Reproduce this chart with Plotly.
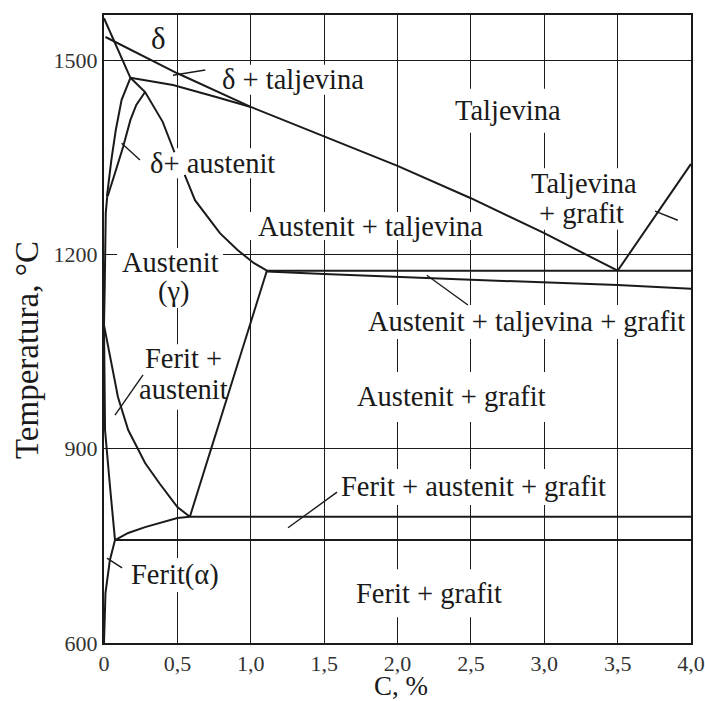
import plotly.graph_objects as go

# ---------------- data (C in %, temperature in °C) ----------------
x_ticks = [0, 0.5, 1.0, 1.5, 2.0, 2.5, 3.0, 3.5, 4.0]
x_ticktext = ["0", "0,5", "1,0", "1,5", "2,0", "2,5", "3,0", "3,5", "4,0"]
y_ticks = [600, 900, 1200, 1500]

liquidus_C = [0.01, 0.5, 1.0, 1.5, 2.0, 2.5, 3.0, 3.5]
liquidus_T = [1536, 1480, 1428, 1382, 1337, 1287, 1233, 1175]

graphite_liq_C = [3.5, 4.0]
graphite_liq_T = [1175, 1340]

delta_solidus_C = [0.0, 0.18]
delta_solidus_T = [1565, 1473]

peritectic_C = [0.18, 0.47, 0.77, 1.0]
peritectic_T = [1473, 1462, 1443, 1428]

gamma_solidus_C = [0.18, 0.28, 0.40, 0.48, None, 0.55, 0.62, 0.79, 0.91, 1.02, 1.11]
gamma_solidus_T = [1473, 1451, 1405, 1358, None, 1323, 1284, 1233, 1207, 1187, 1175]

delta_bound_C = [0.18, 0.12, 0.08, 0.05, 0.02]
delta_bound_T = [1473, 1439, 1392, 1346, 1290]

gamma_bound_C = [0.28, 0.22, 0.18, 0.13, 0.075, 0.025]
gamma_bound_T = [1451, 1431, 1408, 1366, 1326, 1290]

gamma_left_C = [0.022, 0.012, 0.005, 0.0]
gamma_left_T = [1290, 1264, 1150, 1091]

a3_C = [0.0, 0.04, 0.095, 0.165, 0.28, 0.38, 0.50, 0.585]
a3_T = [1091, 1042, 980, 929, 878, 846, 810, 795]

alpha_bound_C = [0.0, 0.007, 0.04, 0.075]
alpha_bound_T = [1091, 929, 844, 759]

gamma_solvus_C = [0.585, 1.11]
gamma_solvus_T = [795, 1175]

three_phase_low_C = [0.075, 0.165, 0.28, 0.40, 0.50, 0.585]
three_phase_low_T = [759, 770, 779, 787, 793, 795]

upper_iso_C = [0.585, 4.0]
upper_iso_T = [795, 795]

lower_iso_C = [0.075, 4.0]
lower_iso_T = [759, 759]

alpha_solvus_C = [0.075, 0.04, 0.01, 0.0]
alpha_solvus_T = [759, 728, 677, 600]

eutectic_C = [1.11, 4.0]
eutectic_T = [1175, 1175]

eut_low_C = [1.11, 1.5, 2.5, 3.5, 4.0]
eut_low_T = [1174, 1170, 1161, 1153, 1147]

# region labels: text, C, T
label_text = ["δ", "δ + taljevina", "Taljevina", "δ+ austenit", "Taljevina", "+ grafit",
              "Austenit + taljevina", "Austenit", "(γ)", "Austenit + taljevina + grafit",
              "Ferit +", "austenit", "Austenit + grafit", "Ferit + austenit + grafit",
              "Ferit(α)", "Ferit + grafit"]
label_C = [0.368, 1.288, 2.753, 0.736, 3.271, 3.257, 1.813, 0.450, 0.477, 2.876,
           0.545, 0.545, 2.365, 2.521, 0.484, 2.215]
label_T = [1534, 1470, 1422, 1341, 1310, 1263, 1244, 1187, 1142, 1096,
           1040, 991, 980, 841, 705, 677]

# leader lines: (C0, T0, C1, T1)
leaders = [(0.47, 1477, 0.69, 1485), (0.12, 1372, 0.245, 1346), (0.075, 952, 0.266, 1014),
           (3.755, 1267, 3.91, 1253), (2.20, 1168, 2.48, 1122), (1.254, 778, 1.588, 833),
           (0.02, 731, 0.123, 716)]

# ---------------- layout / style ----------------
W, H = 705, 701
ML, MR, MT, MB = 104, 14, 15, 58
X_RANGE = [0, 4.0]
Y_RANGE = [600, 1570]
PW, PH = W - ML - MR, H - MT - MB
px_per_C = PW / (X_RANGE[1] - X_RANGE[0])
px_per_T = PH / (Y_RANGE[1] - Y_RANGE[0])

FONT = "Liberation Serif, Times New Roman, serif"
INK = "#1a1a1a"
LABEL_SIZE = [31] + [28.5] * 15
# white gaps behind labels (width, height in px); 0 = none
BOX = [(0, 0), (166, 30), (118, 44), (142, 30), (118, 30), (96, 32), (246, 28), (106, 30),
       (46, 32), (340, 34), (86, 28), (102, 40), (202, 50), (284, 36), (100, 34), (158, 48)]

fig = go.Figure()

curves = [
    (liquidus_C, liquidus_T), (graphite_liq_C, graphite_liq_T),
    (delta_solidus_C, delta_solidus_T), (peritectic_C, peritectic_T),
    (gamma_solidus_C, gamma_solidus_T), (delta_bound_C, delta_bound_T),
    (gamma_bound_C, gamma_bound_T), (gamma_left_C, gamma_left_T),
    (a3_C, a3_T), (alpha_bound_C, alpha_bound_T), (gamma_solvus_C, gamma_solvus_T),
    (three_phase_low_C, three_phase_low_T), (upper_iso_C, upper_iso_T),
    (lower_iso_C, lower_iso_T), (alpha_solvus_C, alpha_solvus_T),
    (eutectic_C, eutectic_T), (eut_low_C, eut_low_T),
]
for cx, ty in curves:
    fig.add_trace(go.Scatter(x=cx, y=ty, mode="lines", line=dict(color=INK, width=2),
                             hoverinfo="skip", showlegend=False, connectgaps=False))

for c0, t0, c1, t1 in leaders:
    fig.add_trace(go.Scatter(x=[c0, c1], y=[t0, t1], mode="lines",
                             line=dict(color=INK, width=1.4), hoverinfo="skip", showlegend=False))

shapes = []
annotations = []
for i, txt in enumerate(label_text):
    bw, bh = BOX[i]
    if bw:
        dx = bw / 2 / px_per_C
        dy = bh / 2 / px_per_T
        shapes.append(dict(type="rect", xref="x", yref="y", layer="between",
                           x0=label_C[i] - dx, x1=label_C[i] + dx,
                           y0=label_T[i] - dy, y1=label_T[i] + dy,
                           fillcolor="white", line=dict(width=0)))
    annotations.append(dict(x=label_C[i], y=label_T[i], xref="x", yref="y", text=txt,
                            showarrow=False, xanchor="center", yanchor="middle",
                            font=dict(family=FONT, size=LABEL_SIZE[i], color=INK)))

# axis titles
annotations.append(dict(x=(27 - ML) / PW, y=(H - MB - 350) / PH,
                        xref="paper", yref="paper", text="Temperatura, °C", textangle=-90,
                        showarrow=False, xanchor="center", yanchor="middle",
                        font=dict(family=FONT, size=33, color=INK)))
annotations.append(dict(x=(401 - ML) / PW, y=(H - MB - 686) / PH,
                        xref="paper", yref="paper", text="C, %", borderpad=0,
                        showarrow=False, xanchor="center", yanchor="middle",
                        font=dict(family=FONT, size=27, color=INK)))

fig.update_layout(
    width=W, height=H,
    margin=dict(l=ML, r=MR, t=MT, b=MB, autoexpand=False),
    paper_bgcolor="white", plot_bgcolor="white",
    shapes=shapes, annotations=annotations,
    font=dict(family=FONT, color=INK),
)
fig.update_xaxes(range=X_RANGE, tickvals=x_ticks, ticktext=x_ticktext, automargin=False,
                 showgrid=True, gridcolor=INK, gridwidth=1.3,
                 showline=True, linecolor=INK, linewidth=2, mirror=True,
                 ticks="", zeroline=False,
                 tickfont=dict(family=FONT, size=22, color="#333"))
fig.update_yaxes(range=Y_RANGE, tickvals=y_ticks, automargin=False,
                 showgrid=True, gridcolor=INK, gridwidth=1.3,
                 showline=True, linecolor=INK, linewidth=2, mirror=True,
                 ticks="", zeroline=False,
                 tickfont=dict(family=FONT, size=22, color="#333"))

fig.write_html("out.html", config={"displayModeBar": False},
               post_script="document.body.style.margin='0';document.body.style.overflow='hidden';")
